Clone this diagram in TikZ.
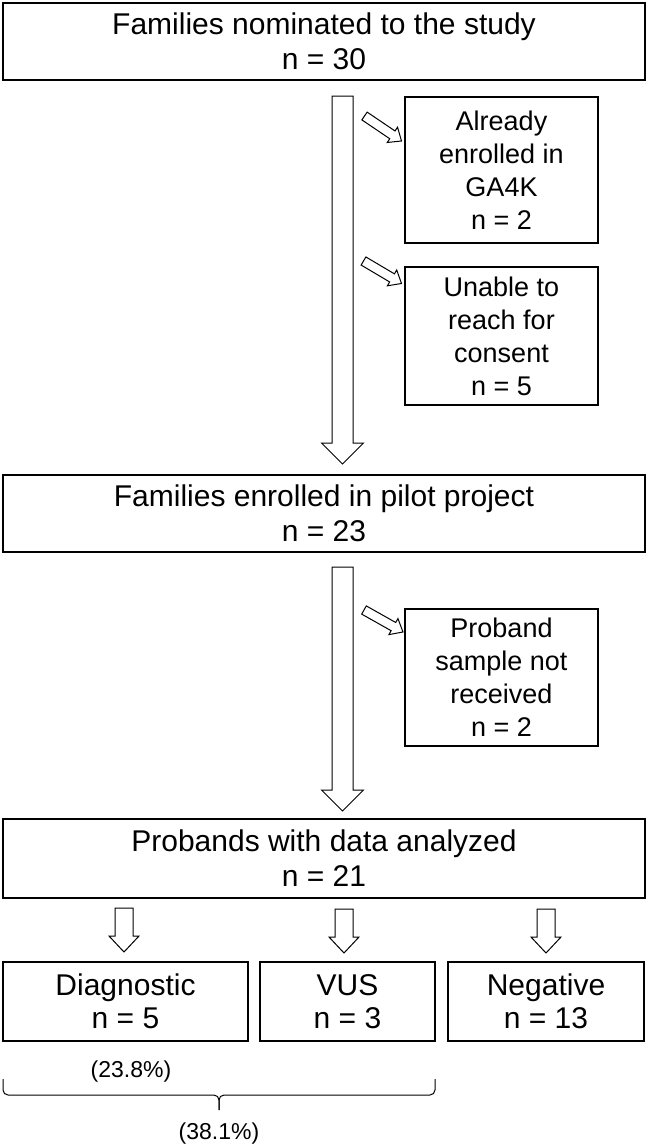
\documentclass[tikz,border=0pt]{standalone}
\usepackage{fontspec}
\setmainfont{Liberation Sans}
\usetikzlibrary{calc}

% hollow block arrow: tail, tip, half shaft, half head, head length
\newcommand{\blockarrow}[5]{%
  \coordinate (#1-h) at ($(#2)!#5!(#1)$);
  \draw [line width=1pt, fill=white] ($(#1)!#3!90:(#2)$) -- ($(#1-h)!#3!90:(#2)$)
    -- ($(#1-h)!#4!90:(#2)$) -- (#2) -- ($(#1-h)!#4!-90:(#2)$)
    -- ($(#1-h)!#3!-90:(#2)$) -- ($(#1)!#3!-90:(#2)$) -- cycle;}

\begin{document}
\begin{tikzpicture}
[x=1pt, y=-1pt, every node/.style={inner sep=0pt},
 mainbox/.style={draw, line width=1.4pt, align=center, minimum width=642pt, font=\fontsize{30}{35}\selectfont},
 sidebox/.style={draw, line width=1.4pt, align=center, minimum width=193pt, font=\fontsize{27}{33}\selectfont},
 leafbox/.style={draw, line width=1.4pt, align=center, minimum height=79pt, font=\fontsize{30}{33}\selectfont},
 pct/.style={anchor=base, font=\fontsize{23}{28}\selectfont}]
\useasboundingbox (0,0) rectangle (647,1146);
\node (nominated) [mainbox, minimum height=77pt] at (324, 41.5) {Families nominated to the study\\n = 30};
\node (ga4k) [sidebox, minimum height=146pt] at (501.5, 170) {Already\\enrolled in\\GA4K\\n = 2};
\node (noconsent) [sidebox, minimum height=138pt] at (501.5, 336) {Unable to\\reach for\\consent\\n = 5};
\node (enrolled) [mainbox, minimum height=77pt] at (324, 513.5) {Families enrolled in pilot project\\n = 23};
\node (nosample) [sidebox, minimum height=137pt] at (501.5, 677.5) {Proband\\sample not\\received\\n = 2};
\node (analyzed) [mainbox, minimum height=79pt] at (324, 858.5) {Probands with data analyzed\\n = 21};
\node (diag) [leafbox, minimum width=245pt] at (125.5, 1001.5) {Diagnostic\\n = 5};
\node (vus) [leafbox, minimum width=175pt] at (347.5, 1001.5) {VUS\\n = 3};
\node (neg) [leafbox, minimum width=196pt] at (546, 1001.5) {Negative\\n = 13};
\node (pdiag) [pct] at (131, 1077) {(23.8\%)};
\node (pboth) [pct] at (219, 1139) {(38.1\%)};
% arrows
\coordinate (t1) at (342.5, 96);   \coordinate (h1) at (342.5, 464);
\coordinate (t2) at (342.5, 567);  \coordinate (h2) at (342.5, 811);
\coordinate (t3) at (364.5, 116);  \coordinate (h3) at (401.5, 141);
\coordinate (t4) at (363.5, 261);  \coordinate (h4) at (401.5, 283.5);
\coordinate (t5) at (364, 610);    \coordinate (h5) at (403, 632);
\coordinate (t6) at (124, 908);    \coordinate (h6) at (124, 952);
\coordinate (t7) at (344, 909);    \coordinate (h7) at (344, 953);
\coordinate (t8) at (546, 909);    \coordinate (h8) at (546, 953);
\blockarrow{t1}{h1}{10.5pt}{21pt}{21pt}
\blockarrow{t2}{h2}{10.5pt}{21pt}{21pt}
\blockarrow{t3}{h3}{4.7pt}{9.2pt}{11pt}
\blockarrow{t4}{h4}{4.7pt}{9.2pt}{11pt}
\blockarrow{t5}{h5}{4.7pt}{9.2pt}{11pt}
\blockarrow{t6}{h6}{9pt}{15pt}{16pt}
\blockarrow{t7}{h7}{9pt}{15pt}{16pt}
\blockarrow{t8}{h8}{9pt}{15pt}{16pt}
% brace under diagnostic and vus
\coordinate (bl) at (3, 1079);
\coordinate (br) at (435, 1079);
\coordinate (bt) at (219, 1110);
\draw [line width=1pt, rounded corners=5pt] (bl) |- (bt |- 0,1095) -- (bt);
\draw [line width=1pt, rounded corners=5pt] (br) |- (bt |- 0,1095) -- (bt);
\end{tikzpicture}
\end{document}
